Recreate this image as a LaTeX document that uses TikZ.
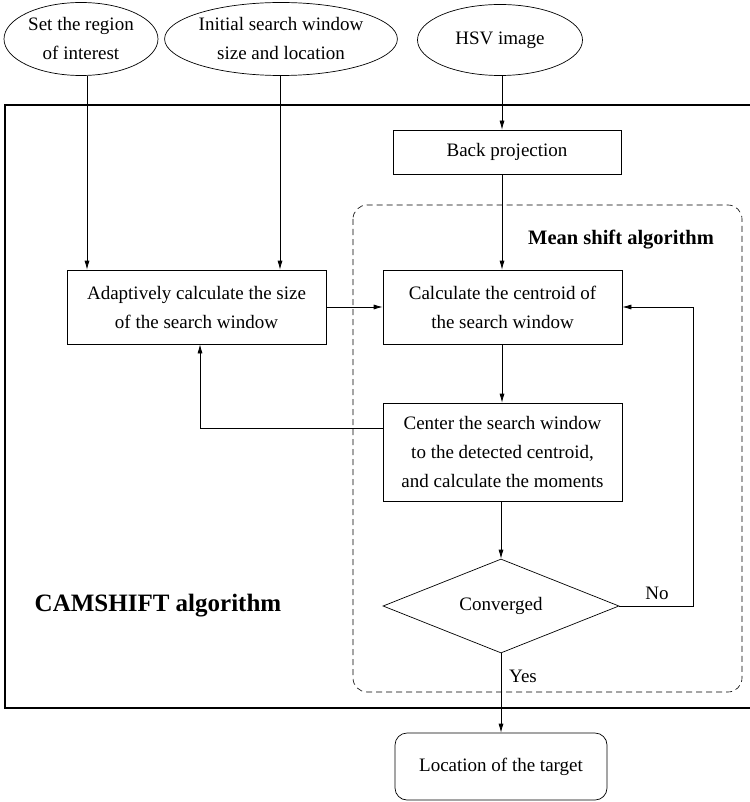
\documentclass[tikz,border=0pt]{standalone}
\usepackage{fontspec}
\setmainfont{Liberation Serif}
\usetikzlibrary{shapes.geometric,arrows.meta}
\begin{document}
\begin{tikzpicture}[x=1pt,y=-1pt,
  every node/.style={font=\fontsize{19}{29}\selectfont, align=center, inner sep=0pt},
  inbox/.style={draw, line width=0.7pt, ellipse},
  procbox/.style={draw, line width=0.7pt, rectangle},
  decide/.style={draw, line width=0.7pt, diamond, aspect=2.5},
  endbox/.style={draw, line width=0.7pt, rectangle, rounded corners=12pt},
  flow/.style={line width=0.7pt, -{Latex[length=9pt,width=5pt]}},
  plain/.style={line width=0.7pt},
  lbl/.style={font=\fontsize{19}{23}\selectfont}]
\useasboundingbox (0,0) rectangle (749,802);

% outer frame of the CAMSHIFT algorithm
\draw[line width=1.4pt] (5,105) rectangle (752,708);
% dashed frame of the mean shift algorithm
\draw[dashed, dash pattern=on 6pt off 4pt, line width=0.6pt, rounded corners=14pt] (353,205) rectangle (742,692);

% inputs
\node[inbox, minimum width=154, minimum height=73] (roi) at (81,39) {Set the region\\of interest};
\node[inbox, minimum width=232, minimum height=73] (win) at (281,39) {Initial search window\\size and location};
\node[inbox, minimum width=165, minimum height=71] (hsv) at (500,40) {HSV image};

% processing steps
\node[procbox, minimum width=228, minimum height=44] (bp) at (507,152) {Back projection};
\node[procbox, minimum width=259, minimum height=74] (adapt) at (196.5,307) {Adaptively calculate the size\\of the search window};
\node[procbox, minimum width=239, minimum height=74] (cent) at (502.5,307) {Calculate the centroid of\\the search window};
\node[procbox, minimum width=239, minimum height=98] (move) at (502.5,452) {Center the search window\\to the detected centroid,\\and calculate the moments};
\node[decide, minimum width=236, minimum height=94] (conv) at (501,606) {Converged};
\node[endbox, minimum width=212, minimum height=67] (target) at (501,766.5) {Location of the target};

% frame titles
\node[font=\fontsize{20.5}{24}\selectfont\bfseries] (msa) at (621,240) {Mean shift algorithm};
\node[font=\fontsize{25}{30}\selectfont\bfseries] (cam) at (158,606) {CAMSHIFT algorithm};

% connectors
\draw[flow] (roi.south -| 87,0) -- (adapt.north -| 87,0);
\draw[flow] (win.south -| 280,0) -- (adapt.north -| 280,0);
\draw[flow] (hsv.south -| 502,0) -- (bp.north -| 502,0);
\draw[flow] (bp.south -| 502,0) -- (cent.north -| 502,0);
\draw[flow] (adapt.east) -- (cent.west);
\draw[flow] (cent.south -| 502,0) -- (move.north -| 502,0);
\draw[flow] (move.west |- 0,428) -| (adapt.south -| 200,0);
\draw[flow] (move.south -| 501,0) -- (conv.north);
\draw[flow] (conv.east) -- (693,606) -- (693,307) -- (cent.east);
\draw[flow] (conv.south) -- (target.north);

% branch labels
\node[lbl] (no) at (657,593) {No};
\node[lbl] (yes) at (523,676) {Yes};
\end{tikzpicture}
\end{document}
